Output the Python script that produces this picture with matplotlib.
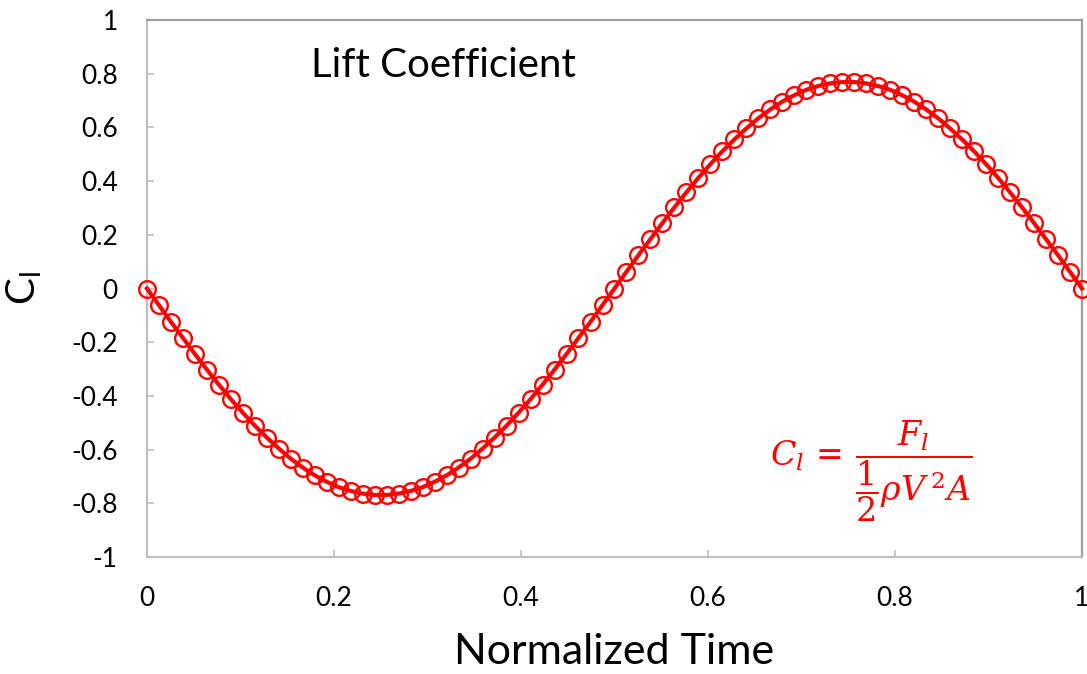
import matplotlib
matplotlib.use('Agg')
import matplotlib.pyplot as plt

# normalized time samples
time = [0.0, 0.0128, 0.0256, 0.0385, 0.0513, 0.0641, 0.0769, 0.0897, 0.1026, 0.1154,
        0.1282, 0.1410, 0.1538, 0.1667, 0.1795, 0.1923, 0.2051, 0.2179, 0.2308, 0.2436,
        0.2564, 0.2692, 0.2821, 0.2949, 0.3077, 0.3205, 0.3333, 0.3462, 0.3590, 0.3718,
        0.3846, 0.3974, 0.4103, 0.4231, 0.4359, 0.4487, 0.4615, 0.4744, 0.4872, 0.5,
        0.5128, 0.5256, 0.5385, 0.5513, 0.5641, 0.5769, 0.5897, 0.6026, 0.6154, 0.6282,
        0.6410, 0.6538, 0.6667, 0.6795, 0.6923, 0.7051, 0.7179, 0.7308, 0.7436, 0.7564,
        0.7692, 0.7821, 0.7949, 0.8077, 0.8205, 0.8333, 0.8462, 0.8590, 0.8718, 0.8846,
        0.8974, 0.9103, 0.9231, 0.9359, 0.9487, 0.9615, 0.9744, 0.9872, 1.0]

# lift coefficient
cl = [0.0, -0.062, -0.124, -0.184, -0.244, -0.302, -0.358, -0.412, -0.463, -0.511,
      -0.555, -0.596, -0.634, -0.667, -0.696, -0.720, -0.740, -0.754, -0.764, -0.769,
      -0.769, -0.764, -0.754, -0.740, -0.720, -0.696, -0.667, -0.634, -0.596, -0.555,
      -0.511, -0.463, -0.412, -0.358, -0.302, -0.244, -0.184, -0.124, -0.062, 0.0,
      0.062, 0.124, 0.184, 0.244, 0.302, 0.358, 0.412, 0.463, 0.511, 0.555,
      0.596, 0.634, 0.667, 0.696, 0.720, 0.740, 0.754, 0.764, 0.769, 0.769,
      0.764, 0.754, 0.740, 0.720, 0.696, 0.667, 0.634, 0.596, 0.555, 0.511,
      0.463, 0.412, 0.358, 0.302, 0.244, 0.184, 0.124, 0.062, 0.0]

x_ticks = [0, 0.2, 0.4, 0.6, 0.8, 1]
x_labels = ['0', '0.2', '0.4', '0.6', '0.8', '1']
y_ticks = [-1, -0.8, -0.6, -0.4, -0.2, 0, 0.2, 0.4, 0.6, 0.8, 1]
y_labels = ['-1', '-0.8', '-0.6', '-0.4', '-0.2', '0', '0.2', '0.4', '0.6', '0.8', '1']

plt.rcParams['font.family'] = ['Lato', 'DejaVu Sans']
plt.rcParams['mathtext.fontset'] = 'dejavuserif'

fig = plt.figure(figsize=(10.87, 6.74), dpi=100)
ax = fig.add_axes([0.1352, 0.1736, 0.8602, 0.7967])

ax.plot(time, cl, color='red', lw=3.0, marker='o', markersize=12,
        markerfacecolor='none', markeredgecolor='red', markeredgewidth=1.7,
        clip_on=False, zorder=3)

ax.set_xlim(0, 1)
ax.set_ylim(-1, 1)
ax.set_xticks(x_ticks)
ax.set_xticklabels(x_labels)
ax.set_yticks(y_ticks)
ax.set_yticklabels(y_labels)
ax.tick_params(direction='in', length=5, width=1.2, color='#bfbfbf',
               labelsize=19, pad=21)

for side in ['left', 'bottom']:
    ax.spines[side].set_color('#bfbfbf')
    ax.spines[side].set_linewidth(1.6)
for side in ['top', 'right']:
    ax.spines[side].set_color('#a0a0a0')
    ax.spines[side].set_linewidth(1.6)

ax.set_xlabel('Normalized Time', fontsize=31, labelpad=16)
ax.set_ylabel('C$_\\mathregular{l}$', fontsize=29, labelpad=20)

ax.text(0.175, 0.915, 'Lift Coefficient', transform=ax.transAxes,
        fontsize=29, ha='left', va='center')
ax.text(0.774, 0.16, r'$C_l\,=\,\dfrac{F_l}{\dfrac{1}{2}\rho V^{\,2}A}$',
        transform=ax.transAxes, color='red', fontsize=24,
        ha='center', va='center')

fig.savefig('out.png', dpi=100)
